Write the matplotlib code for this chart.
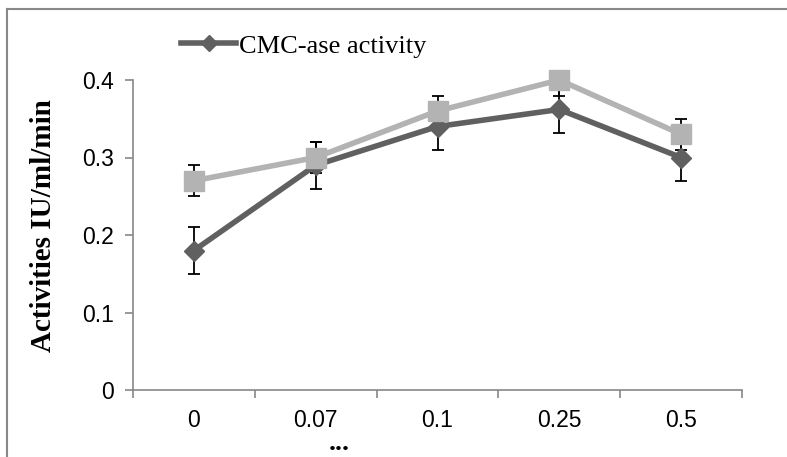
import matplotlib
matplotlib.use("Agg")
import matplotlib.pyplot as plt
from matplotlib.lines import Line2D

categories = ["0", "0.07", "0.1", "0.25", "0.5"]
cmc_values = [0.18, 0.29, 0.34, 0.362, 0.30]
cmc_errors = [0.03, 0.03, 0.03, 0.03, 0.03]
second_values = [0.27, 0.30, 0.36, 0.40, 0.33]
second_errors = [0.02, 0.02, 0.02, 0.02, 0.02]
y_ticks = [0, 0.1, 0.2, 0.3, 0.4]

W, H = 787, 457
fig = plt.figure(figsize=(W / 100, H / 100), dpi=100)
ax = fig.add_axes([133 / W, 1 - 390 / H, (742 - 133) / W, (390 - 80) / H])

x = list(range(len(categories)))
dark = "#606060"
light = "#b3b3b3"

for vals, errs in [(cmc_values, cmc_errors), (second_values, second_errors)]:
    ax.errorbar(x, vals, yerr=errs, fmt="none", ecolor="black",
                elinewidth=1.3, capsize=4, capthick=1.3, zorder=1)
ax.plot(x, cmc_values, color=dark, lw=4, marker="D", ms=10, mec=dark,
        mfc=dark, zorder=2, label="CMC-ase activity", clip_on=False)
ax.plot(x, second_values, color=light, lw=4, marker="s", ms=14, mec=light,
        mfc=light, zorder=3, clip_on=False)

ax.set_xlim(-0.5, len(categories) - 0.5)
ax.set_ylim(0, 0.4)
ax.set_yticks(y_ticks)
ax.set_yticklabels([f"{v:g}" for v in y_ticks], fontfamily="Liberation Sans", fontsize=16.5)
ax.set_xticks(x)
ax.set_xticklabels(categories, fontfamily="Liberation Sans", fontsize=16.5)
ax.set_xticks([i - 0.5 for i in range(len(categories) + 1)], minor=True)
ax.tick_params(axis="x", which="major", length=0, pad=14)
ax.tick_params(axis="x", which="minor", length=6, width=1.2, color="#888888", direction="out")
ax.tick_params(axis="y", length=6, width=1.2, color="#888888", direction="out", pad=8)

for s in ["top", "right"]:
    ax.spines[s].set_visible(False)
for s in ["left", "bottom"]:
    ax.spines[s].set_color("#888888")
    ax.spines[s].set_linewidth(1.2)

leg = fig.legend(loc="center left", bbox_to_anchor=(181 / W, 1 - 46 / H),
                 frameon=False, prop={"family": "Liberation Serif", "size": 19},
                 handlelength=2.1, handletextpad=0.1, markerscale=0.8,
                 borderaxespad=0, borderpad=0)

fig.text(44 / W, 1 - 226 / H, "Activities IU/ml/min", rotation=90,
         ha="center", va="center", fontfamily="Liberation Serif",
         fontweight="bold", fontsize=21)
fig.text(339 / W, 1 - 456 / H, "...", ha="center", va="bottom",
         fontfamily="Liberation Serif", fontweight="bold", fontsize=20)

fig.add_artist(Line2D([7 / W, 7 / W], [0, 1 - 9 / H], transform=fig.transFigure,
                      color="#888888", lw=1.5))
fig.add_artist(Line2D([7 / W, 1], [1 - 9 / H, 1 - 9 / H], transform=fig.transFigure,
                      color="#888888", lw=1.5))

fig.savefig("out.png", dpi=100)
